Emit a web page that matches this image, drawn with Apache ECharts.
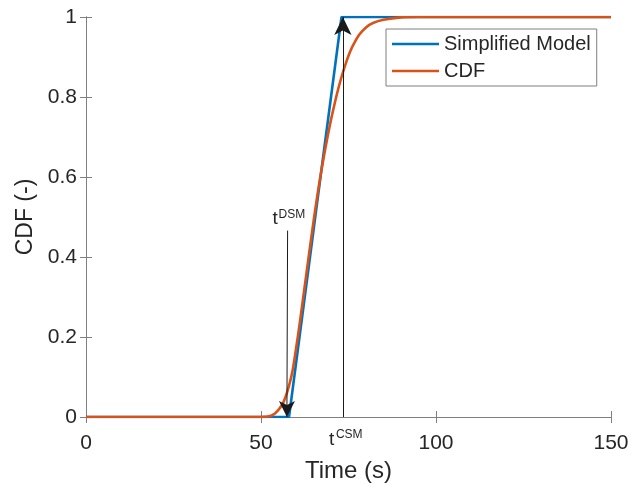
<!DOCTYPE html>
<html>
<head>
<meta charset="utf-8">
<script src="https://cdn.jsdelivr.net/npm/echarts@6/dist/echarts.min.js"></script>
<style>
  html, body { margin: 0; background: #fff; }
  #chart { width: 642px; height: 488px; }
</style>
</head>
<body>
<div id="chart"></div>
<script>
// simplified model: flat, linear ramp, flat
const modelTime = [0, 58, 73, 150]
const modelCdf = [0, 0, 1, 1]

const cdfTime = [0, 50, 52, 54, 56, 57, 58, 59, 60, 61, 62, 63, 64, 65, 66, 67, 68, 69, 70, 71, 72, 73, 74, 75, 76, 78, 80, 82, 85, 90, 95, 150]
const cdfValue = [0, 0, 0.001, 0.009, 0.03, 0.05, 0.078, 0.115, 0.17, 0.23, 0.295, 0.36, 0.425, 0.488, 0.548, 0.603, 0.653, 0.7, 0.743, 0.782, 0.818, 0.85, 0.878, 0.903, 0.924, 0.955, 0.974, 0.985, 0.993, 0.999, 1, 1]

const xTicks = [0, 50, 100, 150]
const yTicks = [0, 0.2, 0.4, 0.6, 0.8, 1]

// annotation arrows
const dsmArrow = { from: [57.6, 0.466], to: [57.4, 0] }
const csmArrow = { from: [73.4, 0], to: [73.4, 1] }

const textColor = '#262626'
const axisColor = '#7f7f7f'
const font = 'Liberation Sans, Arial, sans-serif'

const toPairs = (xs, ys) => xs.map((x, i) => [x, ys[i]])

const axisBase = {
  type: 'value',
  axisLine: { show: true, lineStyle: { color: axisColor, width: 1 } },
  axisTick: { show: true, inside: true, length: 6, lineStyle: { color: axisColor } },
  splitLine: { show: false }
}

const chart = echarts.init(document.getElementById('chart'))

const option = {
  animation: false,
  grid: { left: 86, right: 31, top: 17, bottom: 71 },
  xAxis: [
    {
      ...axisBase,
      position: 'bottom',
      min: 0, max: 150, interval: 50,
      name: 'Time (s)',
      nameLocation: 'middle',
      nameGap: 40,
      nameTextStyle: { fontSize: 24, color: textColor, fontFamily: font },
      axisLabel: {
        fontSize: 21, color: textColor, fontFamily: font, margin: 16,
        formatter: v => (xTicks.includes(v) ? String(v) : '')
      }
    },
    {
      ...axisBase,
      position: 'top',
      min: 0, max: 150, interval: 50,
      axisLabel: { show: false }
    }
  ],
  yAxis: [
    {
      ...axisBase,
      position: 'left',
      min: 0, max: 1, interval: 0.2,
      name: 'CDF (-)',
      nameLocation: 'middle',
      nameGap: 44,
      nameTextStyle: { fontSize: 23, color: textColor, fontFamily: font },
      axisLabel: {
        fontSize: 21, color: textColor, fontFamily: font, margin: 9,
        formatter: v => {
          const t = yTicks.find(y => Math.abs(y - v) < 1e-9)
          return t === undefined ? '' : String(Math.round(t * 10) / 10)
        }
      }
    },
    {
      ...axisBase,
      position: 'right',
      min: 0, max: 1, interval: 0.2,
      axisLabel: { show: false }
    }
  ],
  legend: {
    orient: 'vertical',
    left: 386,
    top: 29,
    backgroundColor: '#fff',
    borderColor: '#7f7f7f',
    borderWidth: 1,
    borderRadius: 0,
    padding: [5, 6, 5, 6],
    itemGap: 7,
    itemWidth: 47,
    itemHeight: 18,
    icon: 'path://M0,0H47V2.6H0Z',
    textStyle: { fontSize: 20, color: textColor, fontFamily: font },
    data: ['Simplified Model', 'CDF']
  },
  series: [
    {
      name: 'Simplified Model',
      type: 'line',
      data: toPairs(modelTime, modelCdf),
      showSymbol: false,
      symbol: 'none',
      lineStyle: { color: '#0072BD', width: 2.6 },
      itemStyle: { color: '#0072BD' },
      z: 2
    },
    {
      name: 'CDF',
      type: 'line',
      data: toPairs(cdfTime, cdfValue),
      smooth: 0.3,
      showSymbol: false,
      symbol: 'none',
      lineStyle: { color: '#D95319', width: 2.6 },
      itemStyle: { color: '#D95319' },
      z: 3,
      markLine: {
        silent: true,
        animation: false,
        symbol: ['none', 'arrow'],
        label: { show: false },
        lineStyle: { color: '#1a1a1a', width: 1, type: 'solid' },
        data: [
          [
            { coord: dsmArrow.from, symbolSize: 0 },
            { coord: dsmArrow.to, symbolSize: [12, 16] }
          ],
          [
            { coord: csmArrow.from, symbolSize: 0 },
            { coord: csmArrow.to, symbolSize: [13, 18] }
          ]
        ]
      }
    }
  ]
}

chart.setOption(option)

// t^DSM and t^CSM labels, placed next to the arrow ends
function supLabel(anchor, dx, baseline, sup, supDx, supBaseline) {
  const p = chart.convertToPixel({ xAxisIndex: 0, yAxisIndex: 0 }, anchor)
  return [
    {
      type: 'text', silent: true,
      x: p[0] + dx, y: p[1] + baseline,
      style: { text: 't', fontSize: 19, fontFamily: font, fill: textColor, verticalAlign: 'bottom' }
    },
    {
      type: 'text', silent: true,
      x: p[0] + supDx, y: p[1] + supBaseline,
      style: { text: sup, fontSize: 12, fontFamily: font, fill: textColor, verticalAlign: 'bottom' }
    }
  ]
}

chart.setOption({
  graphic: [
    ...supLabel(dsmArrow.from, -15, -2, 'DSM', -9, -10),
    ...supLabel(csmArrow.from, -14, 32, 'CSM', -7, 24)
  ]
})
</script>
</body>
</html>
